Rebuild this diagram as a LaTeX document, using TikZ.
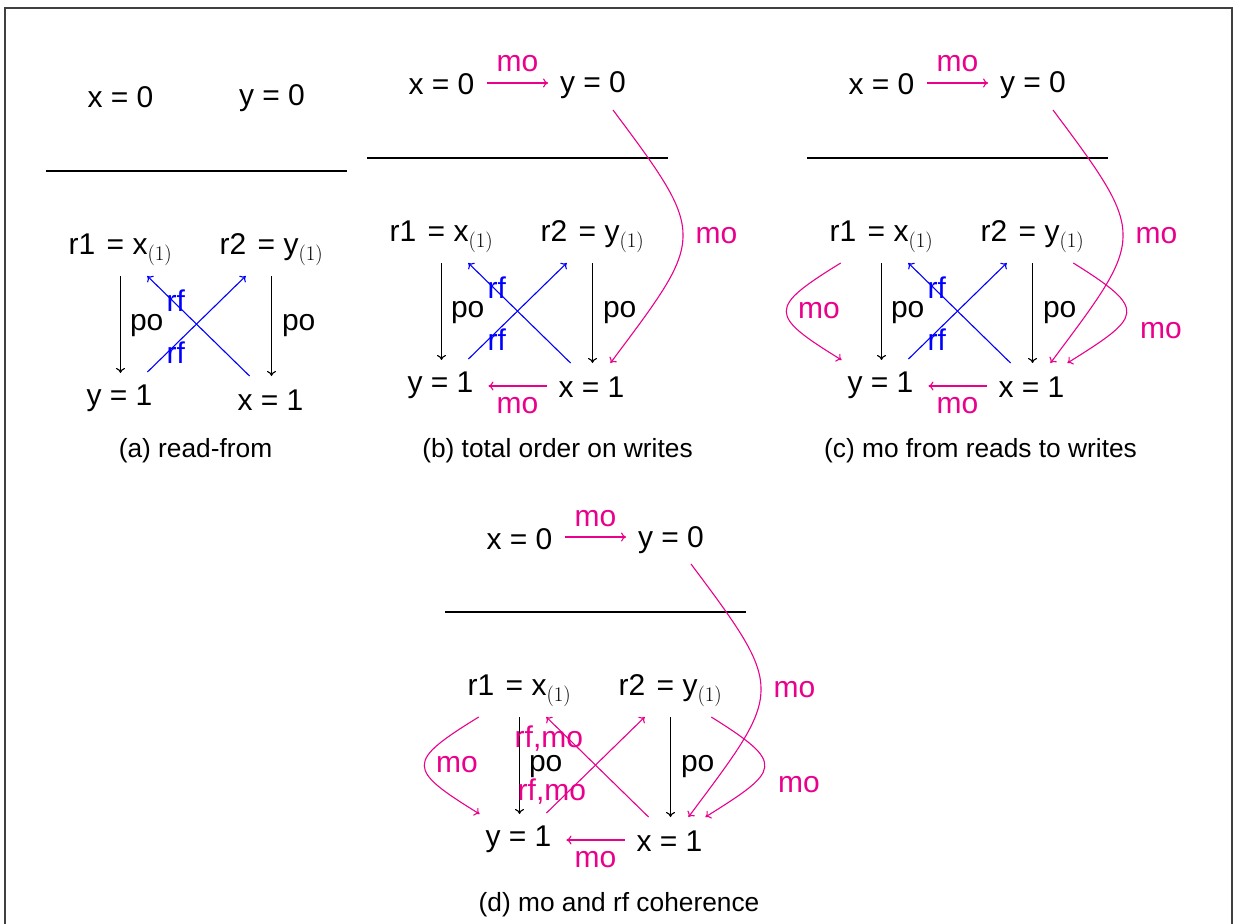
\documentclass[tikz,border=0pt]{standalone}
\usepackage{fontspec}
\setmainfont{Liberation Sans}
\usetikzlibrary{arrows.meta,calc}
\definecolor{mopink}{RGB}{233,0,139}
\definecolor{rfblue}{RGB}{0,0,255}
\newcommand{\evsize}{\fontsize{30pt}{36pt}\selectfont}
\newcommand{\lblsize}{\fontsize{30pt}{36pt}\selectfont}
\newcommand{\capsize}{\fontsize{26.3pt}{32pt}\selectfont}
\tikzset{
  ev/.style={inner sep=0pt, outer sep=0pt, text height=21pt, text depth=7pt, anchor=base, font=\evsize},
  lbl/.style={inner sep=0pt, outer sep=0pt, anchor=base, font=\lblsize},
  molbl/.style={lbl, text=mopink},
  rflbl/.style={lbl, text=rfblue},
  poedge/.style={draw=black, line width=1.1pt, -{To[length=5pt,width=9pt]}},
  moedge/.style={poedge, draw=mopink},
  rfedge/.style={poedge, draw=rfblue},
  divider/.style={line width=1.4pt},
  caption/.style={inner sep=0pt, anchor=base, font=\capsize},
  frame/.style={draw=black!75, line width=1.6pt},
}
\newcommand{\basegraph}[1]{%
  \node[ev] (#1X0) at (441.5,95) {x = 0};
  \node[ev] (#1Y0) at (593,93) {y = 0};
  \draw[divider] (367,158) -- (668,158);
  \node[ev] (#1R1) at (441.5,241) {r1\kern3pt{} = x$_{(1)}$};
  \node[ev] (#1R2) at (592.5,241) {r2\kern3pt{} = y$_{(1)}$};
  \node[ev] (#1Y1) at (440.5,392) {y = 1};
  \node[ev] (#1X1) at (591.5,397) {x = 1};
  \draw[poedge, shorten <=15pt, shorten >=11pt] (#1R1.south) -- (#1R1.south |- #1Y1.north);
  \draw[poedge, shorten <=15pt, shorten >=13pt] (#1R2.south) -- (#1R2.south |- #1X1.north);
  \node[lbl, anchor=base west] (#1Lpo1) at (451,317) {po};
  \node[lbl, anchor=base west] (#1Lpo2) at (603,317) {po};
}
\newcommand{\rfpair}[1]{%
  \draw[rfedge] ([xshift=12pt,yshift=13pt]#1X1.north west) -- ([xshift=-25pt,yshift=-15pt]#1R1.south east);
  \draw[rfedge] ([xshift=-5pt,yshift=12pt]#1Y1.north east) -- ([xshift=26pt,yshift=-15pt]#1R2.south west);
  \node[rflbl, anchor=base east] (#1Lrf1) at (506,298) {rf};
  \node[rflbl, anchor=base east] (#1Lrf2) at (506,350) {rf};
}
\newcommand{\mowrites}[1]{%
  \draw[moedge] ([xshift=13pt,yshift=5pt]#1X0.east) -- ([xshift=-12pt,yshift=3pt]#1Y0.west);
  \node[molbl] (#1Lmo1) at (517.5,72) {mo};
  \draw[moedge] ([xshift=-12pt,yshift=4pt]#1X1.west) -- ([xshift=15pt,yshift=-1pt]#1Y1.east);
  \node[molbl] (#1Lmo2) at (517.5,413) {mo};
  \draw[moedge] ([xshift=20pt,yshift=-10pt]#1Y0.south) .. controls +(95,127) and +(95,-127) .. ([xshift=-14pt,yshift=13pt]#1X1.north east);
  \node[molbl] (#1Lmo3) at (716.5,243) {mo};
}
\newcommand{\moreads}[1]{%
  \draw[moedge] ([xshift=11pt,yshift=-15pt]#1R1.south west) .. controls +(-73,45) and +(-73,-45) .. ([xshift=-6pt,yshift=11pt]#1Y1.north west);
  \node[molbl] (#1Lmo4) at (379,318) {mo};
  \draw[moedge] ([xshift=-11pt,yshift=-15pt]#1R2.south east) .. controls +(75,47) and +(75,-47) .. ([xshift=3pt,yshift=13pt]#1X1.north east);
  \node[molbl] (#1Lmo5) at (721,338) {mo};
}
\begin{document}
\begin{tikzpicture}[x=1pt,y=-1pt]
\useasboundingbox (0,0) rectangle (1233,923);
\draw[frame] (5,8) rectangle (1232,960);
% (a)
\begin{scope}[shift={(-321,13)}]
  \basegraph{a}
  \rfpair{a}
\end{scope}
% (b)
\begin{scope}
  \basegraph{b}
  \rfpair{b}
  \mowrites{b}
\end{scope}
% (c)
\begin{scope}[shift={(440,0)}]
  \basegraph{c}
  \rfpair{c}
  \mowrites{c}
  \moreads{c}
\end{scope}
% (d)
\begin{scope}[shift={(78,454)}]
  \basegraph{d}
  \draw[moedge] ([xshift=12pt,yshift=13pt]dX1.north west) -- ([xshift=-25pt,yshift=-15pt]dR1.south east);
  \draw[moedge] ([xshift=-5pt,yshift=12pt]dY1.north east) -- ([xshift=26pt,yshift=-15pt]dR2.south west);
  \node[molbl, anchor=base east] (dLrf1) at (505,293) {rf,mo};
  \node[molbl, anchor=base east] (dLrf2) at (508,346) {rf,mo};
  \mowrites{d}
  \moreads{d}
\end{scope}
\node[caption] (capa) at (195.5,457) {(a) read-from};
\node[caption] (capb) at (557.5,457) {(b) total order on writes};
\node[caption] (capc) at (980.5,457) {(c) mo from reads to writes};
\node[caption] (capd) at (619,911) {(d) mo and rf coherence};
\end{tikzpicture}
\end{document}
